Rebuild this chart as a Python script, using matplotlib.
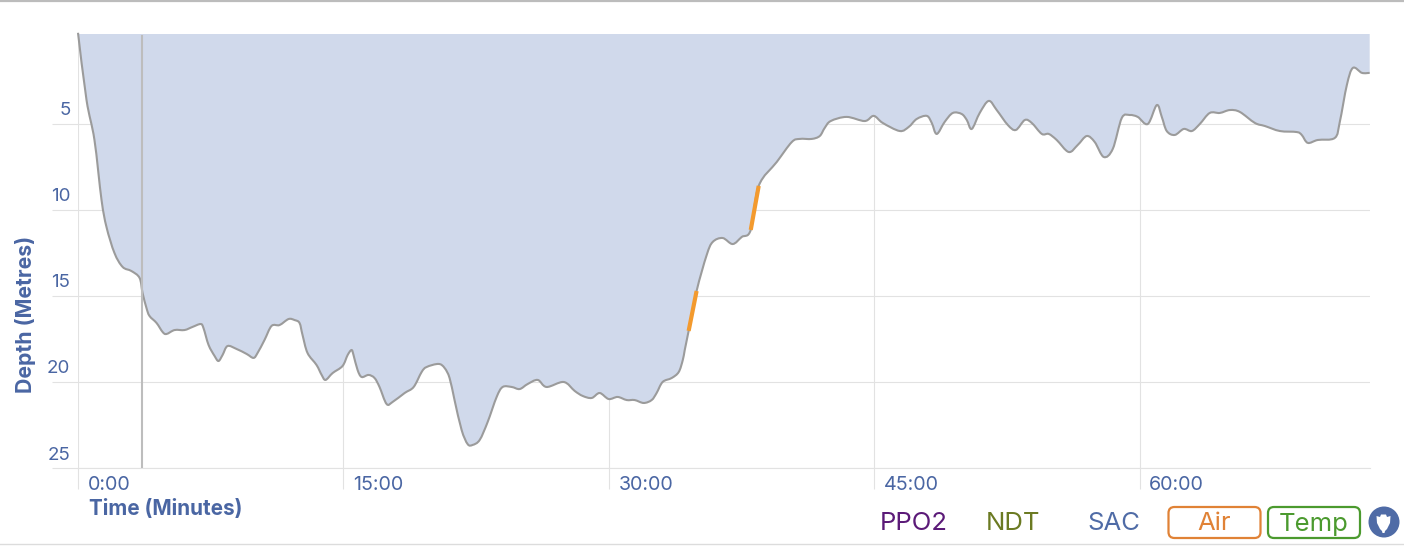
import matplotlib
matplotlib.use('Agg')
import matplotlib.pyplot as plt
import numpy as np
from matplotlib.patches import Circle, FancyBboxPatch, PathPatch, Polygon
from matplotlib.path import Path
from matplotlib.transforms import ScaledTranslation

plt.rcParams['font.family'] = ['Inter', 'DejaVu Sans']

# dive profile, minutes and metres
time_min = [0.0, 0.48, 0.93, 1.33, 1.61, 2.06, 2.52, 3.02, 3.48, 3.65, 3.87, 4.04, 4.44, 4.78, 5.00,
            5.46, 6.02, 6.47, 6.93, 7.09, 7.38, 7.72, 7.94, 8.17, 8.45, 8.96, 9.53, 9.92, 10.15, 10.54,
            10.94, 11.39, 11.90, 12.24, 12.52, 12.69, 12.97, 13.48, 13.77, 13.99, 14.39, 14.95, 15.24,
            15.46, 15.57, 15.80, 16.03, 16.42, 16.76, 17.04, 17.44, 17.78, 18.46, 18.97, 19.42, 19.70,
            20.38, 20.72, 21.00, 21.28, 21.68, 22.02, 22.30, 22.70, 23.15, 23.66, 24.00, 24.51, 24.96,
            25.41, 25.98, 26.48, 27.45, 28.07, 28.52, 29.03, 29.48, 29.99, 30.50, 31.01, 31.46, 31.97,
            32.42, 32.70, 33.04, 33.55, 33.95, 34.18, 34.29, 34.51, 34.96, 35.53, 35.87, 36.43, 37.00,
            37.51, 38.02, 38.47, 39.49, 40.34, 40.79, 41.47, 41.92, 42.20, 42.54, 43.44, 44.46, 44.97,
            45.48, 46.44, 46.95, 47.40, 47.97, 48.25, 48.53, 48.98, 49.44, 49.94, 50.23, 50.51, 50.96,
            51.47, 51.92, 52.55, 53.00, 53.51, 53.90, 54.47, 54.86, 55.31, 55.99, 56.50, 57.01, 57.46,
            57.97, 58.48, 58.99, 59.44, 59.89, 60.46, 60.97, 61.25, 61.53, 61.98, 62.49, 62.95, 63.40,
            63.96, 64.53, 65.10, 65.66, 66.51, 67.08, 67.92, 68.88, 69.16, 69.50, 70.07, 71.03, 71.31,
            71.71, 72.05, 72.56, 73.00]
depth_m = [-0.3, 3.60, 5.93, 9.42, 10.99, 12.50, 13.31, 13.55, 13.95, 14.83, 15.70, 16.16, 16.57, 17.09, 17.21,
           16.98, 16.98, 16.80, 16.63, 16.86, 17.85, 18.49, 18.78, 18.43, 17.91, 18.08, 18.37, 18.60, 18.31, 17.56,
           16.74, 16.69, 16.34, 16.40, 16.57, 17.27, 18.31, 19.01, 19.59, 19.88, 19.48, 19.07, 18.43,
           18.14, 18.43, 19.30, 19.71, 19.59, 19.77, 20.29, 21.28, 21.16, 20.64, 20.29, 19.42, 19.13,
           18.95, 19.19, 19.77, 21.05, 22.79, 23.61, 23.66, 23.37, 22.33, 20.87, 20.29, 20.29, 20.41,
           20.12, 19.88, 20.29, 20.00, 20.52, 20.81, 20.93, 20.64, 20.99, 20.87, 21.05, 21.05, 21.22,
           21.05, 20.64, 20.00, 19.77, 19.42, 18.72, 18.14, 17.03, 14.71, 12.62, 11.86, 11.63, 11.98,
           11.57, 11.16, 8.60, 7.21, 6.05, 5.87, 5.87, 5.70, 5.23, 4.83, 4.59, 4.83, 4.53,
           4.94, 5.41, 5.17, 4.71, 4.53, 4.94, 5.58, 4.88, 4.36, 4.42, 4.77, 5.29, 4.36,
           3.66, 4.19, 5.06, 5.35, 4.77, 4.94, 5.58, 5.58, 5.93, 6.63, 6.22, 5.70, 6.05,
           6.92, 6.45, 4.65, 4.48, 4.59, 5.00, 3.90, 4.59, 5.41, 5.64, 5.29, 5.41, 5.00,
           4.36, 4.36, 4.19, 4.30, 4.94, 5.12, 5.41, 5.47, 5.64, 6.10, 5.93, 5.81, 4.88,
           2.73, 1.74, 2.03, 2.03]

# air switch segments and the hover marker
air_start = [34.51, 38.02]
air_end = [34.96, 38.47]
cursor_time = 3.59

x_ticks = [0, 15, 30, 45, 60]
x_labels = ['0:00', '15:00', '30:00', '45:00', '60:00']
y_ticks = [5, 10, 15, 20, 25]
legend_plain = ['PPO2', 'NDT', 'SAC']
legend_boxed = ['Air', 'Temp']

blue = '#4a66a3'
grid_c = '#e2e2e2'
y_top = -0.23


def smooth_path(xs, ys):
    # bezier through the read points so the line is not angular
    pts = np.column_stack([xs, ys])
    verts = [pts[0]]
    codes = [Path.MOVETO]
    for i in range(len(pts) - 1):
        before = pts[max(i - 1, 0)]
        after = pts[min(i + 2, len(pts) - 1)]
        verts += [pts[i] + (pts[i + 1] - before) / 6, pts[i + 1] - (after - pts[i]) / 6, pts[i + 1]]
        codes += [Path.CURVE4] * 3
    return verts, codes


W, H = 1404, 546
fig = plt.figure(figsize=(W / 100, H / 100), dpi=100)
ax = fig.add_axes([78 / W, 1 - 468 / H, (1369.7 - 78) / W, (468 - 34) / H])

t = np.array(time_min)
d = np.array(depth_m)

verts, codes = smooth_path(t, d)
fill_verts = verts + [(t[-1], y_top), (t[0], y_top), verts[0]]
fill_codes = codes + [Path.LINETO, Path.LINETO, Path.CLOSEPOLY]
ax.add_patch(PathPatch(Path(fill_verts, fill_codes), fc='#d0d9eb', ec='none', zorder=2))
ax.add_patch(PathPatch(Path(verts, codes), fc='none', ec='#9b9b9b', lw=1.5, zorder=3, clip_on=False,
                       joinstyle='round'))
for a, b in zip(air_start, air_end):
    m = (t >= a) & (t <= b)
    ax.plot(t[m], d[m], color='#f39a2e', lw=3, zorder=4, solid_capstyle='butt')
ax.axvline(cursor_time, ymin=0.002, ymax=0.995, color='#bdbdbd', lw=1.5, zorder=5)

ax.set_xlim(0, 73)
ax.set_ylim(25, y_top)
ax.set_xticks(x_ticks)
ax.set_xticklabels(x_labels)
ax.set_yticks(y_ticks)
ax.set_yticklabels(y_ticks)
ax.grid(True, color=grid_c, lw=0.8, zorder=0)
ax.set_axisbelow(True)
for s in ['top', 'right', 'left']:
    ax.spines[s].set_visible(False)
ax.spines['bottom'].set_color(grid_c)
ax.spines['bottom'].set_linewidth(0.8)

# tick lines are long, the labels sit inside them
ax.tick_params(axis='y', length=19, width=0.8, color=grid_c, labelcolor=blue, labelsize=13.5, pad=-13.5)
ax.tick_params(axis='x', length=15, width=0.8, color=grid_c, labelcolor=blue, labelsize=14.2, pad=-9.5)
for lab in ax.get_yticklabels():
    lab.set_transform(lab.get_transform() + ScaledTranslation(0, 15 / 100, fig.dpi_scale_trans))
for lab in ax.get_xticklabels():
    lab.set_ha('left')
    lab.set_transform(lab.get_transform() + ScaledTranslation(9.5 / 100, 0, fig.dpi_scale_trans))

# page furniture drawn in pixel coordinates
page = fig.add_axes([0, 0, 1, 1], zorder=10)
page.set_xlim(0, W)
page.set_ylim(H, 0)
page.axis('off')
page.plot([0, W], [1, 1], color='#bcbcbc', lw=1.6)
page.plot([0, W], [544, 544], color='#dcdcdc', lw=1)

page.text(89, 509, 'Time (Minutes)', color=blue, fontsize=14.9, fontweight='bold', ha='left', va='center')
page.text(26, 314.5, 'Depth (Metres)', color=blue, fontsize=15.3, fontweight='bold', rotation=90, ha='center', va='center')

plain_x = [913.5, 1013.5, 1114]
plain_c = ['#5b1a78', '#6b7a22', '#4f6ba6']
for name, x, c in zip(legend_plain, plain_x, plain_c):
    page.text(x, 524, name, color=c, fontsize=18.5, ha='center', va='center')

box_x = [1168.5, 1268]
box_c = ['#e08236', '#4b9a2e']
for name, x, c in zip(legend_boxed, box_x, box_c):
    page.add_patch(FancyBboxPatch((x + 5, 512), 82, 21, boxstyle='round,pad=5,rounding_size=6',
                                  fc='none', ec=c, lw=1.6))
    page.text(x + 46, 524, name, color=c, fontsize=18.5, ha='center', va='center')

page.add_patch(Circle((1384, 522), 15.5, fc='#4f6ba6', ec='none'))
page.add_patch(Polygon([(1376.5, 516), (1380, 517), (1381, 514.5), (1386, 514.5), (1387, 517), (1390.5, 516),
                        (1390, 523), (1387, 529), (1385, 531), (1384.5, 533), (1382.5, 533), (1382, 531),
                        (1380, 529), (1377, 523)], closed=True, fc='white', ec='none'))

fig.savefig('out.png', dpi=100)
